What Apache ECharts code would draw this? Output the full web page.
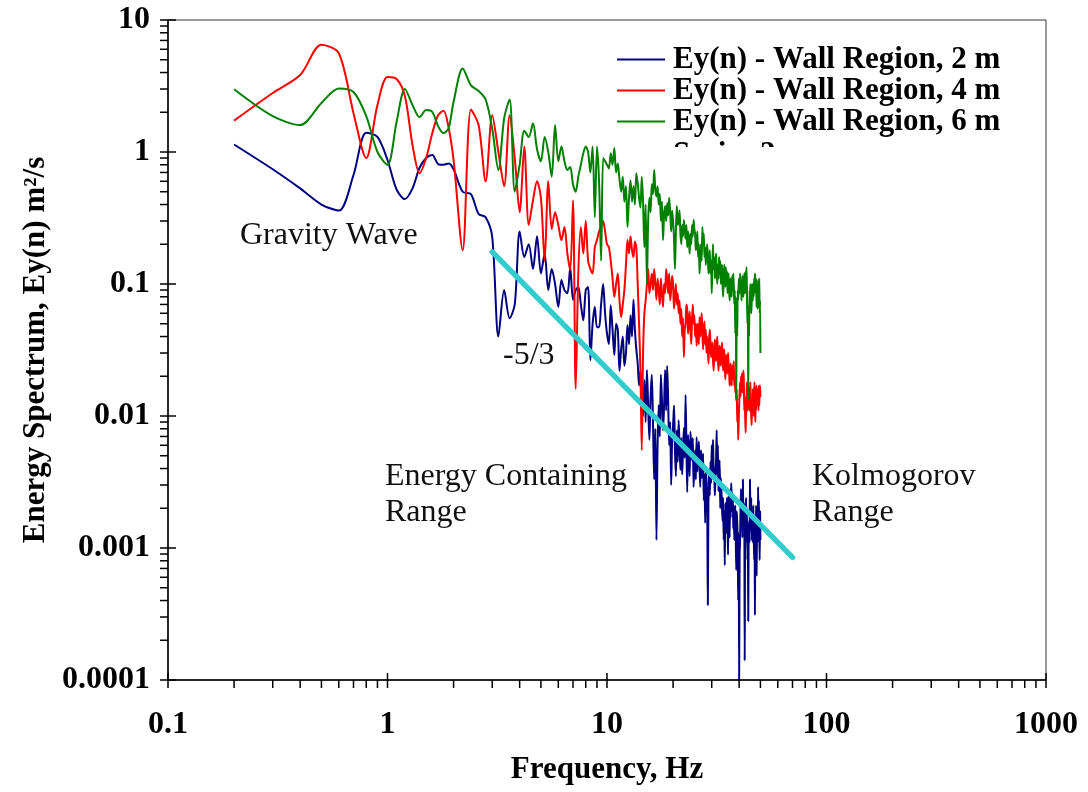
<!DOCTYPE html>
<html>
<head>
<meta charset="utf-8">
<script src="https://cdn.jsdelivr.net/npm/echarts@6/dist/echarts.min.js"></script>
<style>
  html, body { margin: 0; padding: 0; background: #ffffff; }
  #chart { width: 1088px; height: 792px; }
</style>
</head>
<body>
<div id="chart"></div>
<script>
// Frequency bins (Hz)
const frequency = [
  0.2, 0.3, 0.4, 0.5, 0.6, 0.7, 0.8, 0.9, 1.0, 1.1,
  1.2, 1.3, 1.4, 1.5, 1.6, 1.7, 1.8, 1.9, 2.0,
  2.2, 2.4, 2.6, 2.8, 3.0, 3.2, 3.4, 3.6, 3.8, 4.0,
  4.2, 4.4, 4.6, 4.8, 5.0, 5.2, 5.4, 5.6, 5.8, 6.0,
  6.2, 6.4, 6.6, 6.8, 7.0, 7.2, 7.4, 7.6, 7.8, 8.0,
  8.2, 8.4, 8.6, 8.8, 9.0, 9.2, 9.4, 9.6, 9.8, 10.0,
  10.2, 10.4, 10.6, 10.8, 11.0, 11.2, 11.4, 11.6, 11.8, 12.0,
  12.2, 12.4, 12.6, 12.8, 13.0, 13.2, 13.4, 13.6, 13.8, 14.0,
  14.2, 14.4, 14.6, 14.8, 15.0, 15.2, 15.4, 15.6, 15.8, 16.0,
  16.2, 16.4, 16.6, 16.8, 17.0, 17.2, 17.4, 17.6, 17.8, 18.0,
  18.2, 18.4, 18.6, 18.8, 19.0, 19.2, 19.4, 19.6, 19.8, 20.0,
  20.2, 20.4, 20.6, 20.8, 21.0, 21.2, 21.4, 21.6, 21.8, 22.0,
  22.2, 22.4, 22.6, 22.8, 23.0, 23.2, 23.4, 23.6, 23.8, 24.0,
  24.2, 24.4, 24.6, 24.8, 25.0, 25.2, 25.4, 25.6, 25.8, 26.0,
  26.2, 26.4, 26.6, 26.8, 27.0, 27.2, 27.4, 27.6, 27.8, 28.0,
  28.2, 28.4, 28.6, 28.8, 29.0, 29.2, 29.4, 29.6, 29.8, 30.0,
  30.2, 30.4, 30.6, 30.8, 31.0, 31.2, 31.4, 31.6, 31.8, 32.0,
  32.2, 32.4, 32.6, 32.8, 33.0, 33.2, 33.4, 33.6, 33.8, 34.0,
  34.2, 34.4, 34.6, 34.8, 35.0, 35.2, 35.4, 35.6, 35.8, 36.0,
  36.2, 36.4, 36.6, 36.8, 37.0, 37.2, 37.4, 37.6, 37.8, 38.0,
  38.2, 38.4, 38.6, 38.8, 39.0, 39.2, 39.4, 39.6, 39.8, 40.0,
  40.2, 40.4, 40.6, 40.8, 41.0, 41.2, 41.4, 41.6, 41.8, 42.0,
  42.2, 42.4, 42.6, 42.8, 43.0, 43.2, 43.4, 43.6, 43.8, 44.0,
  44.2, 44.4, 44.6, 44.8, 45.0, 45.2, 45.4, 45.6, 45.8, 46.0,
  46.2, 46.4, 46.6, 46.8, 47.0, 47.2, 47.4, 47.6, 47.8, 48.0,
  48.2, 48.4, 48.6, 48.8, 49.0, 49.2, 49.4, 49.6, 49.8, 50.0
];

// Ey(n) spectrum, wall region 2 m (m^2/s)
const wall2m = [
  1.14, 0.74, 0.53, 0.40, 0.36, 0.67, 1.4, 1.3, 0.87, 0.52,
  0.44, 0.53, 0.76, 0.9, 0.95, 0.81, 0.80, 0.82, 0.74,
  0.50, 0.48, 0.34, 0.32, 0.227, 0.04, 0.09, 0.055, 0.07, 0.25,
  0.16, 0.2, 0.13, 0.23, 0.12, 0.17, 0.09, 0.13, 0.1, 0.067,
  0.107, 0.09, 0.085, 0.134, 0.076, 0.09, 0.095, 0.07, 0.053, 0.09,
  0.095, 0.0265, 0.05, 0.067, 0.047, 0.047, 0.07, 0.1, 0.06, 0.042,
  0.035, 0.069, 0.045, 0.029, 0.05, 0.045, 0.022, 0.032, 0.04, 0.024,
  0.03, 0.049, 0.035, 0.058, 0.04, 0.076, 0.045, 0.032, 0.025, 0.017,
  0.022, 0.0132, 0.01, 0.0187, 0.009, 0.0223, 0.012, 0.0066, 0.014, 0.0205,
  0.009, 0.0033, 0.008, 0.00115, 0.006, 0.0121, 0.007, 0.0205, 0.013, 0.0078,
  0.012, 0.0223, 0.011, 0.0239, 0.013, 0.006, 0.009, 0.003, 0.0065, 0.0085,
  0.012, 0.0055, 0.0035, 0.0078, 0.0045, 0.0093, 0.0062, 0.0039, 0.0068, 0.0036,
  0.0055, 0.0081, 0.0048, 0.0144, 0.0062, 0.00265, 0.0072, 0.0051, 0.0035, 0.0076,
  0.0058, 0.0046, 0.0068, 0.0029, 0.0042, 0.0055, 0.0033, 0.0069, 0.0038, 0.0051,
  0.0064, 0.0042, 0.0029, 0.0055, 0.0034, 0.0039, 0.0052, 0.0023, 0.0036, 0.00155,
  0.0041, 0.0029, 0.0022, 0.00037, 0.0026, 0.0039, 0.0025, 0.0045, 0.0031, 0.006,
  0.0034, 0.0066, 0.0041, 0.0039, 0.0025, 0.0033, 0.0047, 0.0078, 0.0036, 0.006,
  0.0027, 0.0039, 0.0046, 0.002, 0.0034, 0.0028, 0.0021, 0.0016, 0.0024, 0.00115,
  0.0019, 0.00074, 0.0022, 0.0016, 0.0013, 0.0024, 0.0017, 0.00089, 0.0025, 0.0019,
  0.0012, 0.0028, 0.0017, 0.0031, 0.0023, 0.0019, 0.0026, 0.0014, 0.0021, 0.00115,
  0.0015, 0.0021, 0.0012, 0.00068, 0.0019, 0.0016, 0.0011, 0.0004, 0.0013, 0.0001,
  0.0009, 0.00115, 0.0021, 0.0028, 0.0015, 0.0019, 0.0012, 0.0033, 0.0017, 0.0014,
  0.0022, 0.00014, 0.0012, 0.00081, 0.0024, 0.00155, 0.0018, 0.0011, 0.0015, 0.00028,
  0.0012, 0.0016, 0.0011, 0.0033, 0.0018, 0.0014, 0.0024, 0.00115, 0.0013, 0.0019,
  0.0011, 0.0021, 0.0014, 0.00081, 0.0017, 0.00031, 0.0013, 0.00115, 0.0021, 0.00062,
  0.0012, 0.0016, 0.0011, 0.0029, 0.0014, 0.0023, 0.0015, 0.00081, 0.0019, 0.00115
];

// Ey(n) spectrum, wall region 4 m (m^2/s)
const wall4m = [
  1.73, 2.8, 3.83, 6.5, 5.6, 1.97, 0.9, 2.27, 3.7, 3.57,
  2.66, 1.13, 0.69, 0.9, 1.39, 1.9, 2.05, 1.52, 0.87,
  0.18, 2.1, 1.6, 0.6, 1.9, 1.0, 0.55, 1.9, 0.9, 0.35,
  1.1, 0.28, 0.43, 0.6, 0.45, 0.15, 0.6, 0.26, 0.35, 0.28,
  0.215, 0.27, 0.17, 0.127, 0.43, 0.016, 0.12, 0.27, 0.17, 0.3,
  0.15, 0.13, 0.12, 0.19, 0.215, 0.25, 0.27, 0.3, 0.25, 0.2,
  0.19, 0.15, 0.11, 0.08, 0.1, 0.12, 0.075, 0.056, 0.07, 0.09,
  0.14, 0.215, 0.17, 0.23, 0.18, 0.16, 0.21, 0.19, 0.1, 0.05,
  0.022, 0.0055, 0.03, 0.06, 0.075, 0.1, 0.13, 0.085, 0.1, 0.12,
  0.09, 0.13, 0.1, 0.076, 0.11, 0.09, 0.07, 0.11, 0.085, 0.067,
  0.1, 0.085, 0.13, 0.11, 0.085, 0.12, 0.075, 0.09, 0.115, 0.1,
  0.065, 0.08, 0.1, 0.07, 0.085, 0.06, 0.075, 0.05, 0.065, 0.04,
  0.055, 0.028, 0.045, 0.05, 0.07, 0.064, 0.042, 0.05, 0.062, 0.045,
  0.035, 0.055, 0.07, 0.05, 0.058, 0.04, 0.05, 0.034, 0.05, 0.045,
  0.035, 0.056, 0.04, 0.05, 0.06, 0.042, 0.032, 0.045, 0.052, 0.035,
  0.045, 0.03, 0.04, 0.033, 0.025, 0.038, 0.045, 0.036, 0.028, 0.03,
  0.036, 0.0265, 0.022, 0.03, 0.038, 0.033, 0.026, 0.034, 0.04, 0.029,
  0.022, 0.0265, 0.034, 0.028, 0.024, 0.031, 0.036, 0.03, 0.022, 0.027,
  0.032, 0.025, 0.019, 0.023, 0.029, 0.026, 0.021, 0.03, 0.025, 0.022,
  0.017, 0.0187, 0.025, 0.021, 0.017, 0.024, 0.019, 0.022, 0.026, 0.017,
  0.021, 0.015, 0.019, 0.013, 0.016, 0.009, 0.012, 0.0066, 0.009, 0.012,
  0.015, 0.018, 0.014, 0.02, 0.016, 0.021, 0.015, 0.017, 0.022, 0.019,
  0.011, 0.014, 0.01, 0.0075, 0.01, 0.012, 0.018, 0.015, 0.011, 0.017,
  0.013, 0.016, 0.011, 0.014, 0.018, 0.012, 0.01, 0.0085, 0.013, 0.011,
  0.016, 0.013, 0.01, 0.015, 0.018, 0.011, 0.009, 0.013, 0.011, 0.017,
  0.012, 0.016, 0.013, 0.014, 0.011, 0.017, 0.012, 0.015, 0.017, 0.014
];

// Ey(n) spectrum, wall region 6 m (m^2/s)
const wall6m = [
  2.99, 1.87, 1.6, 2.35, 3.03, 2.85, 1.87, 1.0, 0.8, 1.69,
  3.0, 2.27, 1.84, 2.08, 2.01, 1.57, 1.39, 1.52, 2.4,
  4.3, 3.2, 2.9, 2.5, 1.5, 0.73, 1.8, 2.5, 0.5, 0.8,
  1.45, 1.3, 1.65, 1.05, 0.85, 1.3, 1.0, 0.65, 1.6, 0.85,
  1.1, 0.85, 0.73, 0.77, 0.57, 0.5, 0.65, 0.8, 0.98, 1.1,
  1.0, 0.7, 1.1, 0.32, 1.1, 0.6, 0.15, 0.9, 0.85, 0.8,
  0.75, 0.98, 0.8, 1.07, 0.7, 0.82, 0.62, 0.5, 0.65, 0.42,
  0.55, 0.27, 0.45, 0.61, 0.42, 0.55, 0.4, 0.69, 0.58, 0.45,
  0.38, 0.65, 0.42, 0.19, 0.4, 0.1, 0.3, 0.45, 0.35, 0.57,
  0.48, 0.73, 0.52, 0.46, 0.55, 0.4, 0.48, 0.3, 0.42, 0.215,
  0.33, 0.39, 0.3, 0.41, 0.33, 0.45, 0.35, 0.25, 0.36, 0.3,
  0.22, 0.13, 0.25, 0.39, 0.28, 0.3, 0.36, 0.24, 0.2, 0.28,
  0.23, 0.305, 0.26, 0.22, 0.28, 0.19, 0.25, 0.22, 0.17, 0.24,
  0.2, 0.28, 0.23, 0.305, 0.26, 0.24, 0.18, 0.2, 0.25, 0.16,
  0.2, 0.12, 0.16, 0.2, 0.15, 0.27, 0.2, 0.24, 0.16, 0.19,
  0.14, 0.17, 0.2, 0.16, 0.12, 0.15, 0.18, 0.12, 0.15, 0.085,
  0.14, 0.2, 0.13, 0.16, 0.11, 0.13, 0.17, 0.12, 0.1, 0.14,
  0.11, 0.16, 0.12, 0.15, 0.1, 0.12, 0.14, 0.1, 0.08, 0.107,
  0.14, 0.12, 0.095, 0.134, 0.1, 0.125, 0.085, 0.1, 0.12, 0.09,
  0.075, 0.09, 0.11, 0.1, 0.08, 0.115, 0.09, 0.12, 0.1, 0.07,
  0.09, 0.042, 0.08, 0.0132, 0.06, 0.04, 0.09, 0.076, 0.1, 0.11,
  0.085, 0.12, 0.09, 0.105, 0.075, 0.09, 0.115, 0.1, 0.08, 0.095,
  0.12, 0.11, 0.085, 0.125, 0.1, 0.134, 0.09, 0.05, 0.07, 0.0132,
  0.06, 0.04, 0.09, 0.076, 0.1, 0.085, 0.06, 0.07, 0.1, 0.09,
  0.075, 0.1, 0.08, 0.11, 0.085, 0.12, 0.1, 0.09, 0.11, 0.067,
  0.09, 0.085, 0.065, 0.107, 0.08, 0.09, 0.11, 0.06, 0.075, 0.03
];

// -5/3 reference slope: [frequency, Ey(n)] end points
const slopeLine = [[3, 0.175], [70, 0.00085]];

const seriesNames = [
  'Ey(n) - Wall Region, 2 m',
  'Ey(n) - Wall Region, 4 m',
  'Ey(n) - Wall Region, 6 m'
];
const xTickLabels = ['0.1', '1', '10', '100', '1000'];
const yTickLabels = ['0.0001', '0.001', '0.01', '0.1', '1', '10'];

const FONT = "'Liberation Serif', 'Times New Roman', serif";
const xDecades = xTickLabels.map(Number);
const yDecades = yTickLabels.map(Number);
const X_MIN = xDecades[0], X_MAX = xDecades[xDecades.length - 1];
const Y_MIN = yDecades[0], Y_MAX = yDecades[yDecades.length - 1];

// minor ticks sit at 2..9 times each decade
const minorSteps = [2, 3, 4, 5, 6, 7, 8, 9];
function minorOf(decades) {
  const out = [];
  for (let i = 0; i < decades.length - 1; i++) {
    minorSteps.forEach(m => out.push(+(decades[i] * m).toPrecision(4)));
  }
  return out;
}
const xMinor = minorOf(xDecades);
const yMinor = minorOf(yDecades);

function toPairs(values) {
  return frequency.map((f, i) => [f, values[i]]);
}

// tick marks drawn through the axis scales; inner/outer are lengths in px
function tickSeries(values, dim, inner, outer) {
  return {
    type: 'custom',
    silent: true,
    clip: false,
    z: 6,
    data: values.map(v => dim === 'x' ? [v, Y_MIN] : [X_MIN, v]),
    renderItem: function (params, api) {
      const p = api.coord([api.value(0), api.value(1)]);
      const shape = dim === 'x'
        ? { x1: p[0], y1: p[1] - inner, x2: p[0], y2: p[1] + outer }
        : { x1: p[0] - outer, y1: p[1], x2: p[0] + inner, y2: p[1] };
      return { type: 'line', shape: shape, style: { stroke: '#000', lineWidth: 1.5 } };
    }
  };
}

function spectrumSeries(name, values, color) {
  return {
    name: name,
    type: 'line',
    data: toPairs(values),
    symbol: 'none',
    showSymbol: false,
    smooth: 0.3,
    lineStyle: { color: color, width: 2 },
    itemStyle: { color: color },
    z: 2
  };
}

const chart = echarts.init(document.getElementById('chart'), null, { renderer: 'canvas' });

const annotationStyle = { fontFamily: FONT, fontSize: 32, fill: '#111', textVerticalAlign: 'middle' };

chart.setOption({
  animation: false,
  backgroundColor: '#ffffff',
  grid: {
    left: 168, right: 42, top: 20, bottom: 112,
    show: true, borderColor: '#333', borderWidth: 1,
    outerBoundsMode: 'none'
  },
  legend: {
    data: seriesNames,
    orient: 'vertical',
    left: 617, top: 44,
    padding: 0,
    icon: 'rect',
    itemWidth: 48, itemHeight: 2, itemGap: 0,
    selectedMode: false,
    textStyle: { fontFamily: FONT, fontSize: 31, fontWeight: 'bold', color: '#000', lineHeight: 31, padding: [0, 0, 0, 3] }
  },
  xAxis: {
    type: 'log', logBase: 10, min: X_MIN, max: X_MAX,
    name: 'Frequency, Hz', nameLocation: 'middle', nameGap: 74,
    nameTextStyle: { fontFamily: FONT, fontSize: 31, fontWeight: 'bold', color: '#000' },
    axisLine: { lineStyle: { color: '#000', width: 1.5 } },
    axisTick: { show: false },
    minorTick: { show: false },
    splitLine: { show: false },
    axisLabel: {
      fontFamily: FONT, fontSize: 32, fontWeight: 'bold', color: '#000', margin: 29,
      formatter: v => xTickLabels[Math.round(Math.log10(v)) - Math.round(Math.log10(X_MIN))]
    }
  },
  yAxis: {
    type: 'log', logBase: 10, min: Y_MIN, max: Y_MAX,
    name: 'Energy Spectrum, Ey(n) m²/s', nameLocation: 'middle', nameGap: 117, nameRotate: 90,
    nameTextStyle: { fontFamily: FONT, fontSize: 31, fontWeight: 'bold', color: '#000' },
    axisLine: { lineStyle: { color: '#000', width: 1.5 } },
    axisTick: { show: false },
    minorTick: { show: false },
    splitLine: { show: false },
    axisLabel: {
      fontFamily: FONT, fontSize: 32, fontWeight: 'bold', color: '#000', margin: 18,
      formatter: v => yTickLabels[Math.round(Math.log10(v)) - Math.round(Math.log10(Y_MIN))]
    }
  },
  graphic: [
    { type: 'text', left: 673, top: 139, z: 0, silent: true,
      style: { text: 'Series 2', fontFamily: FONT, fontSize: 31, fontWeight: 'bold', fill: '#000' } },
    { type: 'rect', shape: { x: 668, y: 147, width: 130, height: 32 }, z: 1, silent: true,
      style: { fill: '#ffffff' } },
    { type: 'text', x: 240, y: 236, z: 10, silent: true,
      style: Object.assign({ text: 'Gravity Wave' }, annotationStyle) },
    { type: 'text', x: 503, y: 356, z: 10, silent: true,
      style: Object.assign({ text: '-5/3' }, annotationStyle) },
    { type: 'text', x: 385, y: 477, z: 10, silent: true,
      style: Object.assign({ text: 'Energy Containing' }, annotationStyle) },
    { type: 'text', x: 385, y: 513, z: 10, silent: true,
      style: Object.assign({ text: 'Range' }, annotationStyle) },
    { type: 'text', x: 812, y: 477, z: 10, silent: true,
      style: Object.assign({ text: 'Kolmogorov' }, annotationStyle) },
    { type: 'text', x: 812, y: 513, z: 10, silent: true,
      style: Object.assign({ text: 'Range' }, annotationStyle) }
  ],
  series: [
    spectrumSeries(seriesNames[0], wall2m, '#000080'),
    spectrumSeries(seriesNames[1], wall4m, '#ff0000'),
    spectrumSeries(seriesNames[2], wall6m, '#008000'),
    {
      name: 'Series 2',
      type: 'line',
      data: slopeLine,
      symbol: 'none',
      smooth: false,
      lineStyle: { color: '#33cccc', width: 5.5, cap: 'round' },
      z: 3
    },
    tickSeries(xDecades, 'x', 7, 8),
    tickSeries(xMinor, 'x', 0, 8),
    tickSeries(yDecades, 'y', 8, 8),
    tickSeries(yMinor, 'y', 0, 8)
  ]
});
</script>
</body>
</html>
